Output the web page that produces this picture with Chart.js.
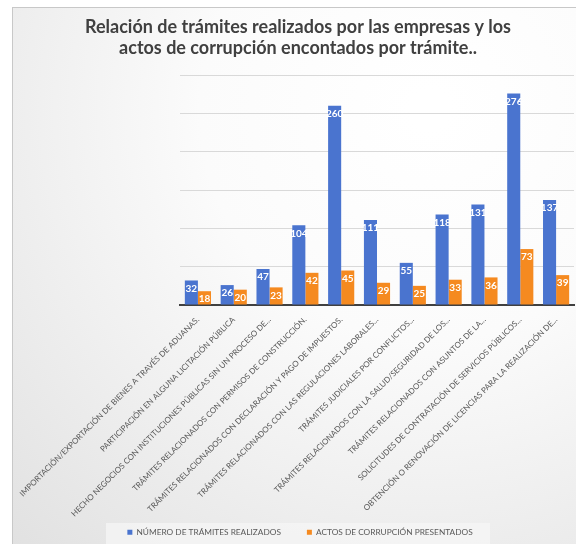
<!DOCTYPE html>
<html>
<head>
<meta charset="utf-8">
<script src="https://cdn.jsdelivr.net/npm/chart.js@4.4.1/dist/chart.umd.min.js"></script>
<style>
  html, body { margin: 0; padding: 0; background: #ffffff; }
  #wrap { position: absolute; left: 0; top: 0; width: 576px; height: 544px; }
</style>
</head>
<body>
<div id="wrap"><canvas id="c" width="576" height="544"></canvas></div>
<script>
const categories = [
  "IMPORTACIÓN/EXPORTACIÓN DE BIENES A TRAVÉS DE ADUANAS.",
  "PARTICIPACIÓN EN ALGUNA LICITACIÓN PÚBLICA",
  "HECHO NEGOCIOS CON INSTITUCIONES PÚBLICAS SIN UN PROCESO DE...",
  "TRÁMITES RELACIONADOS CON PERMISOS DE CONSTRUCCIÓN.",
  "TRÁMITES RELACIONADOS CON DECLARACIÓN Y PAGO DE IMPUESTOS.",
  "TRÁMITES RELACIONADOS CON LAS REGULACIONES LABORALES...",
  "TRÁMITES JUDICIALES POR CONFLICTOS...",
  "TRÁMITES RELACIONADOS CON LA SALUD/SEGURIDAD DE LOS...",
  "TRÁMITES RELACIONADOS CON ASUNTOS DE LA...",
  "SOLICITUDES DE CONTRATACIÓN DE SERVICIOS PÚBLICOS...",
  "OBTENCIÓN O RENOVACIÓN DE LICENCIAS PARA LA REALIZACIÓN DE..."
];
const tramitesRealizados = [32, 26, 47, 104, 260, 111, 55, 118, 131, 276, 137];
const actosCorrupcion = [18, 20, 23, 42, 45, 29, 25, 33, 36, 73, 39];
const seriesNames = ["NÚMERO DE TRÁMITES REALIZADOS", "ACTOS DE CORRUPCIÓN PRESENTADOS"];
const titleLines = ["Relación de trámites realizados por las empresas y los", "actos de corrupción encontados por trámite.."];

const bgPlugin = {
  id: 'bg',
  beforeDraw(chart) {
    const ctx = chart.ctx;
    ctx.save();
    const g = ctx.createRadialGradient(430, 110, 20, 430, 110, 620);
    g.addColorStop(0, '#ffffff');
    g.addColorStop(0.35, '#fbfbfb');
    g.addColorStop(1, '#e0e0e0');
    ctx.fillStyle = g;
    ctx.fillRect(12, 7, 576, 560);
    ctx.strokeStyle = '#c8c8c8';
    ctx.lineWidth = 1;
    ctx.strokeRect(12.5, 7.5, 580, 560);
    // legend box
    ctx.fillStyle = 'rgba(245,245,245,0.8)';
    ctx.fillRect(106, 523, 384, 21);
    ctx.restore();
  }
};

const layoutTweak = {
  id: 'layoutTweak',
  afterLayout(chart) {
    const lg = chart.legend;
    if (lg) {
      const dy = 4.5, dx = 6;
      lg.top += dy; lg.bottom += dy;
      lg.left += dx; lg.right += dx;
    }
    const tb = chart.titleBlock;
    if (tb) { tb.left += 4; tb.right += 4; }
    const xs = chart.scales.x;
    if (xs) xs.bottom += 45;
  }
};

const labelPlugin = {
  id: 'vals',
  afterDatasetsDraw(chart) {
    const ctx = chart.ctx;
    ctx.save();
    ctx.fillStyle = '#ffffff';
    ctx.font = 'bold 10px Lato';
    ctx.textAlign = 'center';
    ctx.textBaseline = 'middle';
    chart.data.datasets.forEach((ds, i) => {
      const meta = chart.getDatasetMeta(i);
      meta.data.forEach((el, j) => {
        ctx.fillText(String(ds.data[j]), el.x, el.y + 8);
      });
    });
    ctx.restore();
  }
};

new Chart(document.getElementById('c'), {
  type: 'bar',
  data: {
    labels: categories,
    datasets: [
      { label: seriesNames[0], data: tramitesRealizados, backgroundColor: '#4A74CF', barPercentage: 1.0, categoryPercentage: 0.73 },
      { label: seriesNames[1], data: actosCorrupcion, backgroundColor: '#F58A20', barPercentage: 1.0, categoryPercentage: 0.73 }
    ]
  },
  options: {
    responsive: false,
    animation: false,
    devicePixelRatio: 1,
    layout: { padding: { top: 10, left: 14, right: 2, bottom: 2 } },
    plugins: {
      title: {
        display: true,
        text: titleLines,
        color: '#404040',
        font: { family: 'Lato', size: 18, weight: 'bold', lineHeight: 1.17 },
        padding: { top: 7, bottom: 16 }
      },
      legend: {
        position: 'bottom',
        labels: {
          color: '#595959',
          font: { family: 'Lato', size: 8.3 },
          boxWidth: 5,
          boxHeight: 5,
          padding: 26
        }
      },
      tooltip: { enabled: false }
    },
    scales: {
      x: {
        grid: { display: false },
        border: { display: true, color: '#404040', width: 2 },
        afterFit(scale) { scale.height = 192.7; },
        ticks: {
          autoSkip: false,
          maxRotation: 45,
          minRotation: 45,
          color: '#595959',
          font: { family: 'Lato', size: 8 },
          padding: 2
        }
      },
      y: {
        min: 0,
        max: 300,
        afterFit(scale) { scale.width = 166; },
        ticks: { display: false, stepSize: 50 },
        grid: { color: '#d9d9d9', drawTicks: false },
        border: { display: false }
      }
    }
  },
  plugins: [bgPlugin, layoutTweak, labelPlugin]
});
</script>
</body>
</html>
